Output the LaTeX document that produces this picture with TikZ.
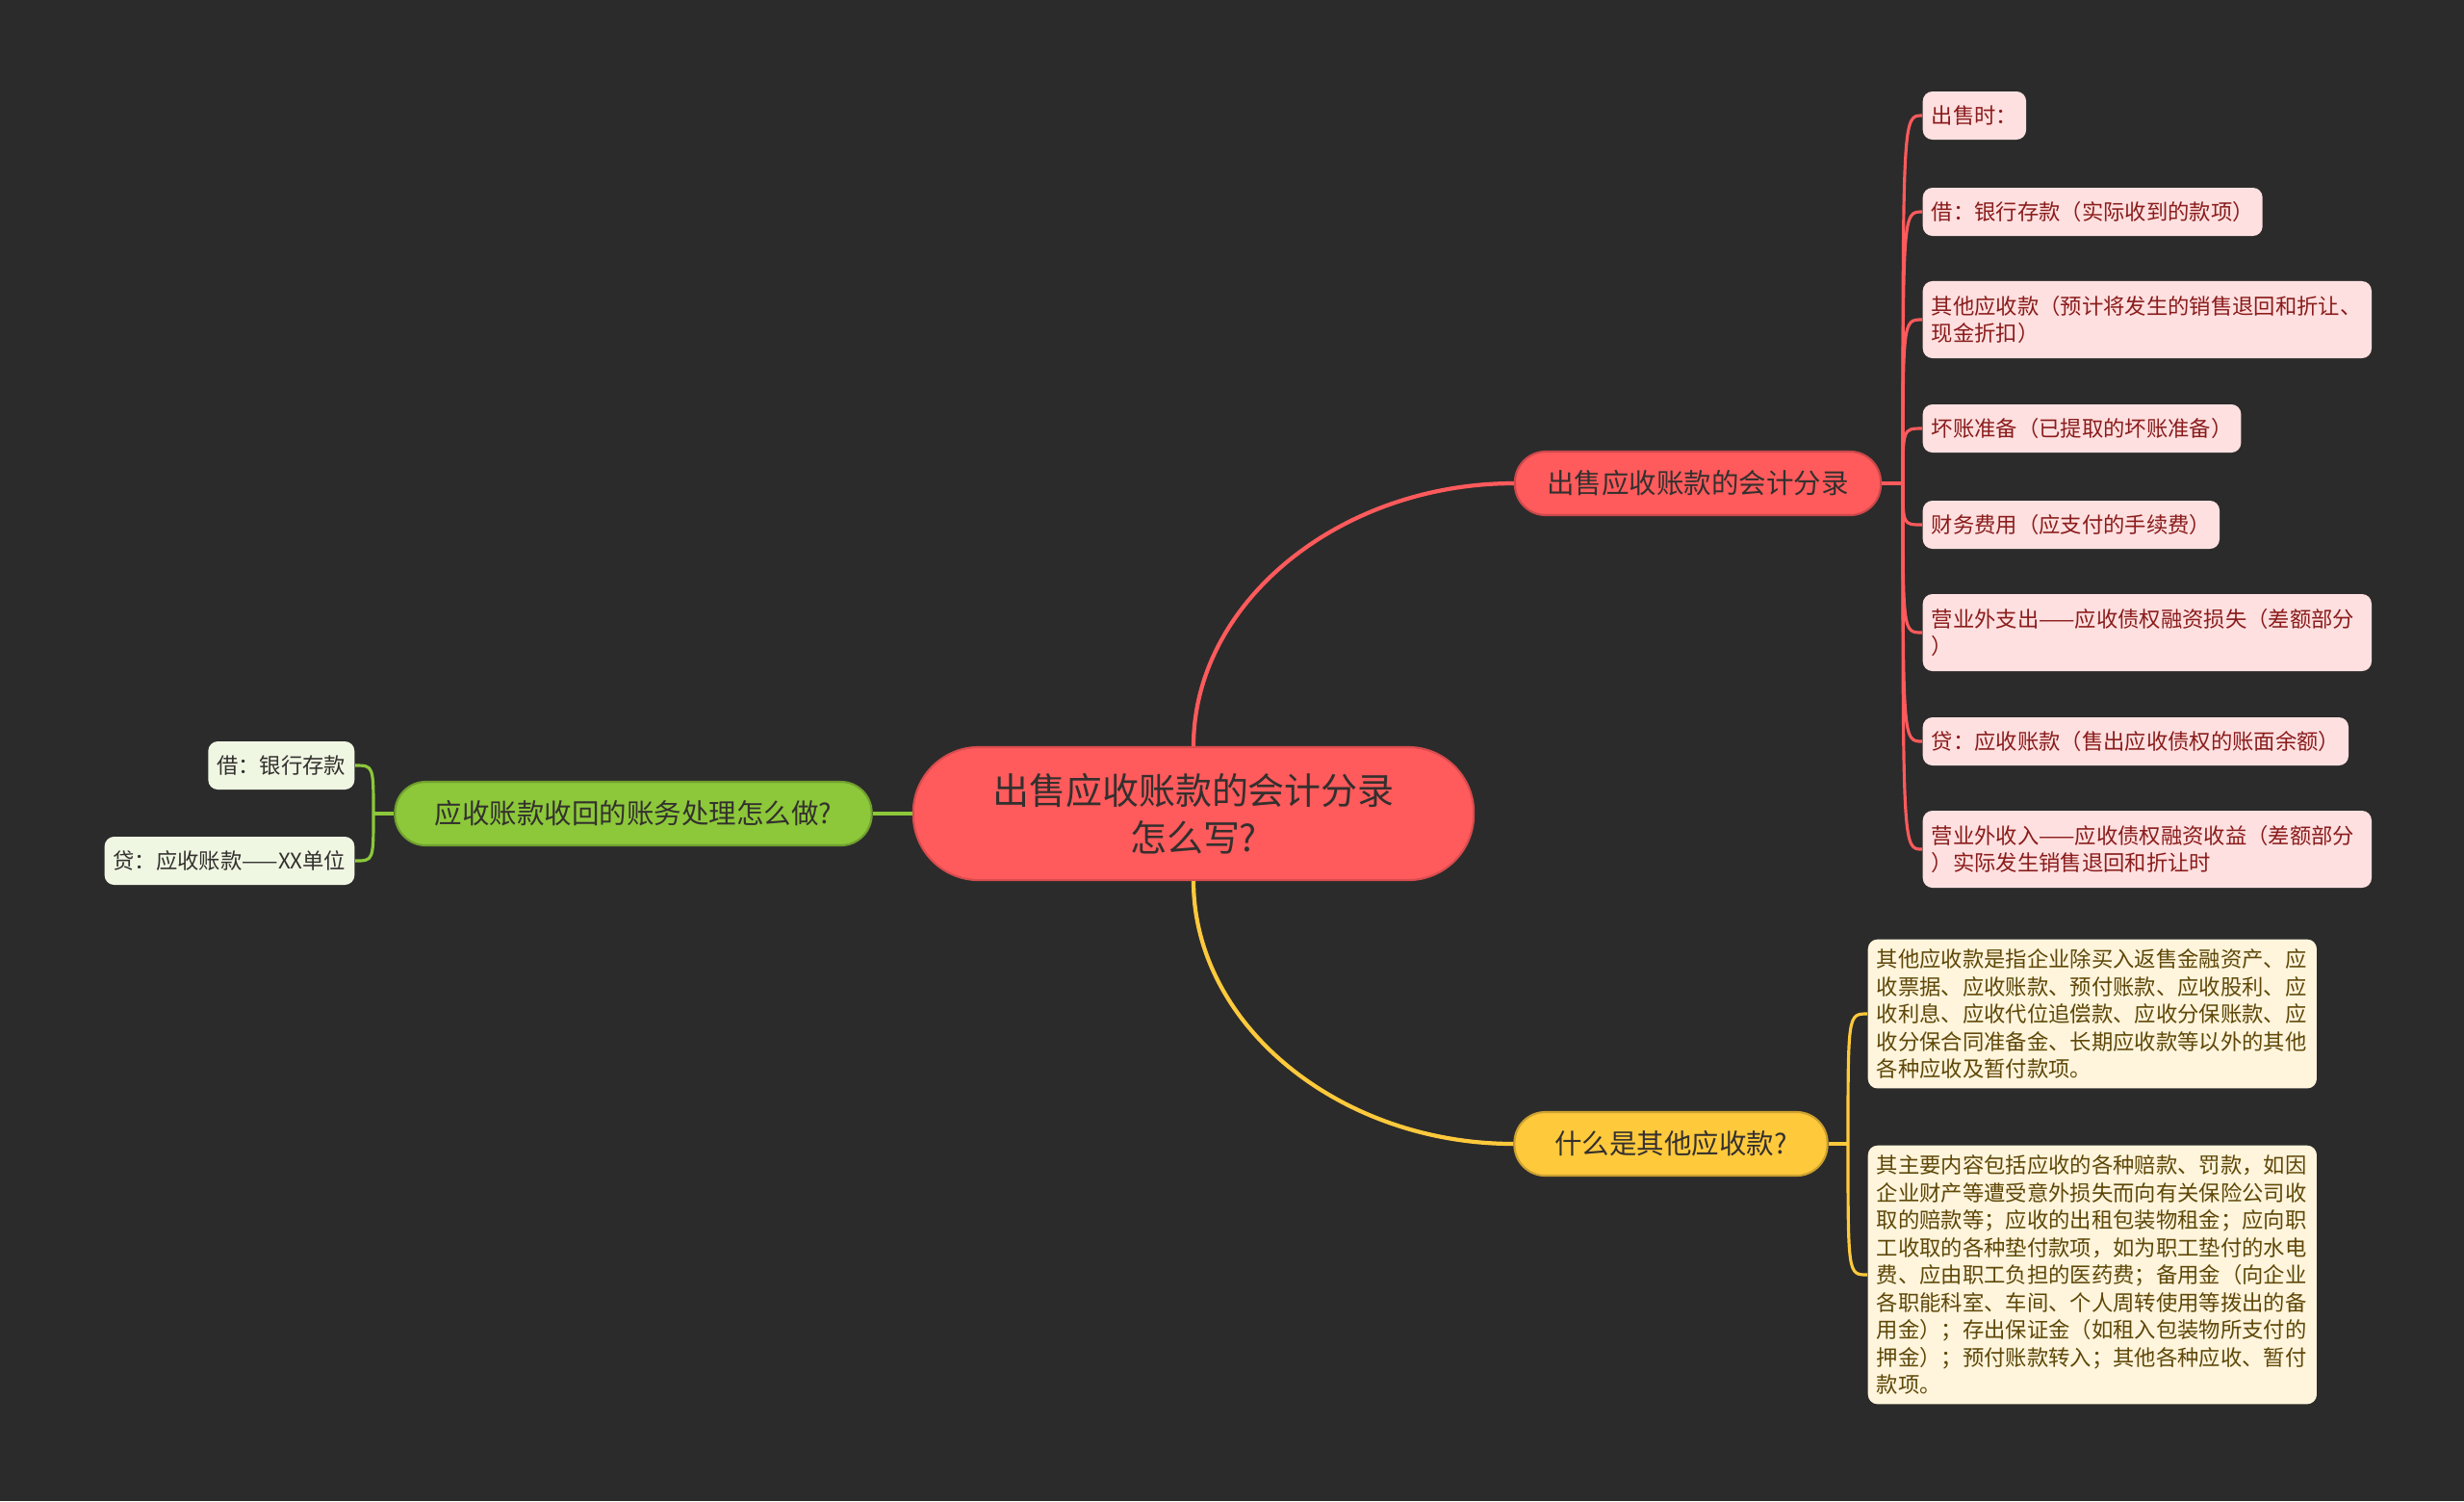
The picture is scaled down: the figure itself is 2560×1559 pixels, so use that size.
\documentclass[tikz,border=0pt]{standalone}
\usepackage{fontspec}
\setmainfont{Noto Sans CJK SC}
\usetikzlibrary{positioning}
\definecolor{bgdark}{HTML}{2B2B2B}
\definecolor{huered}{HTML}{FF5A5C}
\definecolor{huegreen}{HTML}{8CC83A}
\definecolor{hueyellow}{HTML}{FFC93C}
\definecolor{inkdark}{HTML}{33302E}
\definecolor{inkred}{HTML}{8A1C1C}
\definecolor{inkgold}{HTML}{5E4708}

\begin{document}
\begin{tikzpicture}[x=0.01cm, y=-0.01cm,
hub/.style={draw=huered!85!black, line width=0.6pt, fill=huered, rounded corners=0.68cm, minimum width=5.82cm, minimum height=1.38cm, align=center, text=inkdark, font=\fontsize{10.8}{13.9}\selectfont},
branch/.style={draw=#1!80!black, line width=0.6pt, fill=#1, rounded corners=0.32cm, minimum height=0.66cm, align=center, text=inkdark, font=\fontsize{8.1}{10}\selectfont},
rleaf/.style={fill=red!12, text=inkred, rounded corners=0.1cm, minimum height=0.5cm, inner xsep=0.09cm, align=left, anchor=west, font=\fontsize{6.35}{8.1}\selectfont},
rleafw/.style={rleaf, text width=4.48cm, minimum height=0.8cm},
gleaf/.style={fill=huegreen!14, text=inkdark, rounded corners=0.1cm, minimum height=0.5cm, inner xsep=0.09cm, anchor=east, font=\fontsize{6.35}{8.1}\selectfont},
yleaf/.style={fill=hueyellow!18, text=inkgold, rounded corners=0.1cm, inner xsep=0.09cm, inner ysep=0.1cm, text width=4.48cm, align=justify, anchor=west, font=\fontsize{6.35}{8.1}\selectfont},
mainline/.style={draw=#1, line width=1.2pt},
leafline/.style={draw=#1, line width=0.9pt}]

\fill[bgdark] (0,0) rectangle (2560,1559);

\node[hub] (c) at (1240,845) {出售应收账款的会计分录\\怎么写?};
\node[branch=huered, minimum width=3.80cm] (rb) at (1764,502) {出售应收账款的会计分录};
\node[branch=huegreen, minimum width=4.95cm] (gb) at (658,845) {应收账款收回的账务处理怎么做?};
\node[branch=hueyellow, minimum width=3.25cm] (yb) at (1736,1188) {什么是其他应收款?};

\node[rleaf] (r1) at (1997,120) {出售时：};
\node[rleaf] (r2) at (1997,220) {借：银行存款（实际收到的款项）};
\node[rleafw] (r3) at (1997,332) {其他应收款（预计将发生的销售退回和折让、\\现金折扣）};
\node[rleaf] (r4) at (1997,445) {坏账准备（已提取的坏账准备）};
\node[rleaf] (r5) at (1997,545) {财务费用（应支付的手续费）};
\node[rleafw] (r6) at (1997,657) {营业外支出——应收债权融资损失（差额部分\\）};
\node[rleaf] (r7) at (1997,770) {贷：应收账款（售出应收债权的账面余额）};
\node[rleafw] (r8) at (1997,882) {营业外收入——应收债权融资收益（差额部分\\）实际发生销售退回和折让时};

\node[gleaf] (g1) at (369,795) {借：银行存款};
\node[gleaf] (g2) at (369,894) {贷：应收账款——XX单位};

\node[yleaf] (y1) at (1940,1053) {其他应收款是指企业除买入返售金融资产、应\\收票据、应收账款、预付账款、应收股利、应\\收利息、应收代位追偿款、应收分保账款、应\\收分保合同准备金、长期应收款等以外的其他\\各种应收及暂付款项。};
\node[yleaf] (y2) at (1940,1324) {其主要内容包括应收的各种赔款、罚款，如因\\企业财产等遭受意外损失而向有关保险公司收\\取的赔款等；应收的出租包装物租金；应向职\\工收取的各种垫付款项，如为职工垫付的水电\\费、应由职工负担的医药费；备用金（向企业\\各职能科室、车间、个人周转使用等拨出的备\\用金）；存出保证金（如租入包装物所支付的\\押金）；预付账款转入；其他各种应收、暂付\\款项。};

\draw[mainline=huered] (c.north) .. controls +(0,-150) and +(-180,0) .. (rb.west);
\draw[mainline=hueyellow] (c.south) .. controls +(0,150) and +(-180,0) .. (yb.west);
\draw[mainline=huegreen] (c.west) -- (gb.east);

\coordinate (rbus) at (1977,502);
\coordinate (gbus) at (388,845);
\coordinate (ybus) at (1920,1188);
\draw[leafline=huered] (rb.east) -- (rbus);
\draw[leafline=huegreen] (gb.west) -- (gbus);
\draw[leafline=hueyellow] (yb.east) -- (ybus);
\foreach \n in {r1,r2,r3,r4,r5,r6,r7,r8}
  \draw[leafline=huered] (rbus) .. controls (rbus |- \n.west) .. (\n.west);
\foreach \n in {g1,g2}
  \draw[leafline=huegreen] (gbus) .. controls (gbus |- \n.east) .. (\n.east);
\foreach \n in {y1,y2}
  \draw[leafline=hueyellow] (ybus) .. controls (ybus |- \n.west) .. (\n.west);
\end{tikzpicture}
\end{document}
